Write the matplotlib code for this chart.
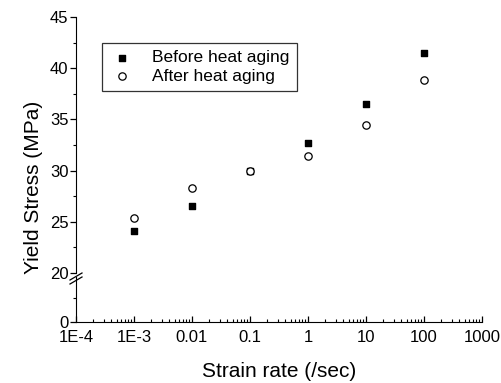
import matplotlib
matplotlib.use("Agg")
import matplotlib.pyplot as plt
from matplotlib.ticker import FixedLocator, FixedFormatter, LogLocator, NullFormatter, MultipleLocator

plt.rcParams['font.family'] = ['Liberation Sans', 'DejaVu Sans']

# data
strain_rate = [1e-3, 1e-2, 1e-1, 1, 10, 100]
before_aging = [24.1, 26.5, 30.0, 32.7, 36.5, 41.5]
after_aging = [25.4, 28.3, 30.0, 31.4, 34.5, 38.8]

xtick_vals = [1e-4, 1e-3, 1e-2, 1e-1, 1, 10, 100, 1000]
xtick_labels = ["1E-4", "1E-3", "0.01", "0.1", "1", "10", "100", "1000"]

fig = plt.figure(figsize=(5.02, 3.83), dpi=100)
left, width = 76/502, 406/502
ax = fig.add_axes([left, 1-273/383, width, 256/383])
axb = fig.add_axes([left, 1-322/383, width, 49/383])

for a in (ax, axb):
    a.set_xscale("log")
    a.set_xlim(1e-4, 1000)
    a.spines['top'].set_visible(False)
    a.spines['right'].set_visible(False)
    a.patch.set_alpha(0)
    a.tick_params(axis='y', direction='out', labelsize=12, length=4, width=0.9, pad=1.5)
    a.tick_params(axis='y', which='minor', direction='out', length=2.5, width=0.8)

ax.scatter(strain_rate, before_aging, marker='s', s=24, color='black', label="Before heat aging", zorder=3)
ax.scatter(strain_rate, after_aging, marker='o', s=28, facecolors='white', edgecolors='black',
           linewidths=0.9, label="After heat aging", zorder=3)

ax.set_ylim(20, 45)
ax.yaxis.set_major_locator(MultipleLocator(5))
ax.yaxis.set_minor_locator(MultipleLocator(2.5))
ax.spines['bottom'].set_visible(False)
ax.tick_params(axis='x', which='both', bottom=False, labelbottom=False)
ax.set_ylabel("Yield Stress (MPa)", fontsize=15)
ax.yaxis.set_label_coords(-0.082, 0.336)

axb.set_ylim(0, 20)
axb.yaxis.set_major_locator(FixedLocator([0]))
axb.yaxis.set_minor_locator(FixedLocator([10]))
axb.spines['left'].set_bounds(0, 18.5)
axb.xaxis.set_major_locator(FixedLocator(xtick_vals))
axb.xaxis.set_major_formatter(FixedFormatter(xtick_labels))
axb.xaxis.set_minor_locator(LogLocator(base=10, subs=range(2, 10)))
axb.xaxis.set_minor_formatter(NullFormatter())
axb.tick_params(axis='x', which='major', direction='in', length=4, width=0.9, labelsize=12, pad=6)
axb.tick_params(axis='x', which='minor', direction='in', length=2.5, width=0.8)
axb.set_xlabel("Strain rate (/sec)", fontsize=15, labelpad=12)

# break marks on the y axis
for dy in (0, 4):
    fig.add_artist(plt.Line2D([70/502, 82/502], [1-(280+dy)/383, 1-(273+dy)/383],
                              color='black', lw=0.9))

leg = ax.legend(loc='upper left', bbox_to_anchor=(26/406, 1-26/256), frameon=True, fancybox=False,
                edgecolor='black', fontsize=12.5, handletextpad=1.0, borderpad=0.4,
                labelspacing=0.2, handlelength=1.5, borderaxespad=0)
leg.get_frame().set_linewidth(0.9)

fig.savefig("out.png", dpi=100)
